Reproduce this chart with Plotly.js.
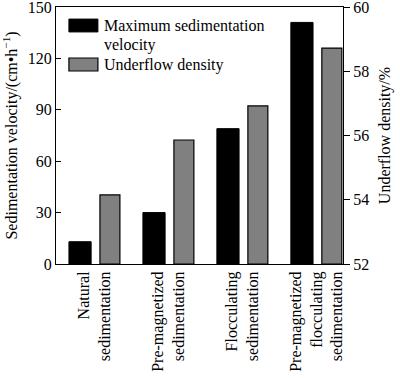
<!DOCTYPE html>
<html>
<head>
<meta charset="utf-8">
<script src="https://cdn.plot.ly/plotly-3.0.1.min.js"></script>
<style>html,body{margin:0;padding:0;background:#fff;}#chart{width:400px;height:378px;}</style>
</head>
<body>
<div id="chart"></div>
<script>
const categories = ["Natural<br>sedimentation", "Pre-magnetized<br>sedimentation", "Flocculating<br>sedimentation", "Pre-magnetized<br>flocculating<br>sedimentation"];
const maxVelocity = [13, 30, 79, 141];
const underflowDensity = [54.15, 55.86, 56.92, 58.72];
const leftTicks = [0, 30, 60, 90, 120, 150];
const rightTicks = [52, 54, 56, 58, 60];
const densityBase = 52;
const seriesNames = ["Maximum sedimentation velocity", "Underflow density"];

const font = "Liberation Serif, Times New Roman, serif";

const traces = [
  {type: 'bar', x: categories, y: maxVelocity, name: seriesNames[0], yaxis: 'y',
   offset: -0.345, width: 0.30, marker: {color: '#000', line: {color: '#000', width: 1}}, showlegend: false},
  {type: 'bar', x: categories, y: underflowDensity.map(v => v - densityBase), base: densityBase,
   name: seriesNames[1], yaxis: 'y2',
   offset: 0.074, width: 0.27, marker: {color: '#808080', line: {color: '#000', width: 1.2}}, showlegend: false}
];

const layout = {
  width: 400, height: 378,
  margin: {l: 56, r: 57, t: 7, b: 114},
  paper_bgcolor: '#fff', plot_bgcolor: '#fff',
  font: {family: font, size: 16, color: '#000'},
  barmode: 'overlay',
  xaxis: {type: 'category', range: [-0.52, 3.36], showline: true, mirror: true, linecolor: '#000', linewidth: 1,
          ticks: '', tickangle: -90, showgrid: false, zeroline: false, tickfont: {family: font, size: 16}},
  yaxis: {range: [0, 150], tickvals: leftTicks, ticks: 'inside', ticklen: 5, tickcolor: '#000',
          showline: true, linecolor: '#000', linewidth: 1, showgrid: false, zeroline: false,
          ticklabeloverflow: 'allow',
          title: {text: 'Sedimentation velocity/(cm•h<sup>−1</sup>)', font: {family: font, size: 16}, standoff: 8},
          tickfont: {family: font, size: 16}},
  yaxis2: {range: [52, 60], tickvals: rightTicks, overlaying: 'y', side: 'right', ticks: 'outside', ticklen: 6,
           tickcolor: '#000', showline: true, linecolor: '#000', linewidth: 1, showgrid: false, zeroline: false,
           ticklabeloverflow: 'allow',
           title: {text: 'Underflow density/%', font: {family: font, size: 16}, standoff: 10},
           tickfont: {family: font, size: 16}},
  shapes: [
    {type: 'rect', xref: 'paper', yref: 'paper', x0: 0.045, x1: 0.146, y0: 0.903, y1: 0.953,
     fillcolor: '#000', line: {color: '#000', width: 1}},
    {type: 'rect', xref: 'paper', yref: 'paper', x0: 0.045, x1: 0.146, y0: 0.751, y1: 0.8016,
     fillcolor: '#808080', line: {color: '#000', width: 1.2}}
  ],
  annotations: [
    {xref: 'paper', yref: 'paper', x: 0.16, y: 0.928, xanchor: 'left', yanchor: 'middle', showarrow: false,
     text: 'Maximum sedimentation', font: {family: font, size: 16}},
    {xref: 'paper', yref: 'paper', x: 0.16, y: 0.852, xanchor: 'left', yanchor: 'middle', showarrow: false,
     text: 'velocity', font: {family: font, size: 16}},
    {xref: 'paper', yref: 'paper', x: 0.16, y: 0.776, xanchor: 'left', yanchor: 'middle', showarrow: false,
     text: 'Underflow density', font: {family: font, size: 16}}
  ]
};

Plotly.newPlot('chart', traces, layout, {displayModeBar: false, staticPlot: true});
</script>
</body>
</html>
